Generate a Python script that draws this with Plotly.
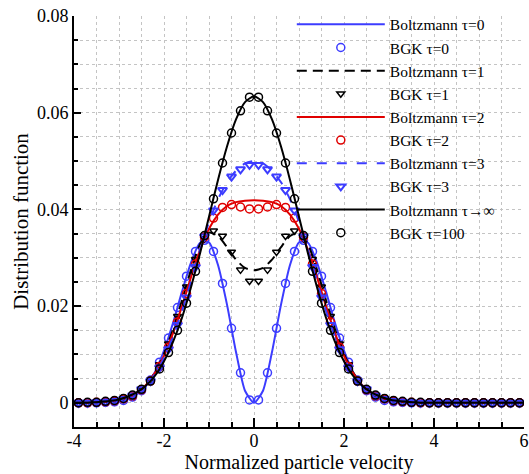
import plotly.graph_objects as go

# ---------------- data ----------------
# BGK solution points (discrete velocity grid)
v_bgk = [-3.9, -3.7, -3.5, -3.3, -3.1, -2.9, -2.7, -2.5, -2.3, -2.1,
         -1.9, -1.7, -1.5, -1.3, -1.1, -0.9, -0.7, -0.5, -0.3, -0.1,
         0.1, 0.3, 0.5, 0.7, 0.9, 1.1, 1.3, 1.5, 1.7, 1.9,
         2.1, 2.3, 2.5, 2.7, 2.9, 3.1, 3.3, 3.5, 3.7, 3.9,
         4.1, 4.3, 4.5, 4.7, 4.9, 5.1, 5.3, 5.5, 5.7, 5.9]

bgk_t0 = [0.0, 0.0, 0.0, 0.0001, 0.0002, 0.0005, 0.0012, 0.0025, 0.0047, 0.0084,
          0.0134, 0.0197, 0.0262, 0.0313, 0.0336, 0.0313, 0.0247, 0.0154, 0.0062, 0.0006,
          0.0006, 0.0062, 0.0154, 0.0247, 0.0313, 0.0336, 0.0313, 0.0262, 0.0197, 0.0134,
          0.0084, 0.0047, 0.0025, 0.0012, 0.0005, 0.0002, 0.0001, 0.0, 0.0, 0.0,
          0.0, 0.0, 0.0, 0.0, 0.0, 0.0, 0.0, 0.0, 0.0, 0.0]

bgk_t1 = [0.0, 0.0, 0.0001, 0.0001, 0.0003, 0.0007, 0.0013, 0.0026, 0.0047, 0.0079,
          0.0122, 0.0179, 0.0240, 0.0297, 0.0340, 0.0356, 0.0345, 0.0312, 0.0275, 0.0252,
          0.0252, 0.0275, 0.0312, 0.0345, 0.0356, 0.0340, 0.0297, 0.0240, 0.0179, 0.0122,
          0.0079, 0.0047, 0.0026, 0.0013, 0.0007, 0.0003, 0.0001, 0.0001, 0.0, 0.0,
          0.0, 0.0, 0.0, 0.0, 0.0, 0.0, 0.0, 0.0, 0.0, 0.0]

bgk_t2 = [0.0, 0.0, 0.0001, 0.0002, 0.0004, 0.0008, 0.0014, 0.0027, 0.0045, 0.0075,
          0.0115, 0.0167, 0.0226, 0.0287, 0.0343, 0.0382, 0.0404, 0.0410, 0.0405, 0.0401,
          0.0401, 0.0405, 0.0410, 0.0404, 0.0382, 0.0343, 0.0287, 0.0226, 0.0167, 0.0115,
          0.0075, 0.0045, 0.0027, 0.0014, 0.0008, 0.0004, 0.0002, 0.0001, 0.0, 0.0,
          0.0, 0.0, 0.0, 0.0, 0.0, 0.0, 0.0, 0.0, 0.0, 0.0]

bgk_t3 = [0.0, 0.0, 0.0001, 0.0002, 0.0004, 0.0008, 0.0015, 0.0028, 0.0045, 0.0073,
          0.0111, 0.0161, 0.0218, 0.0281, 0.0344, 0.0398, 0.0440, 0.0468, 0.0483, 0.0492,
          0.0492, 0.0483, 0.0468, 0.0440, 0.0398, 0.0344, 0.0281, 0.0218, 0.0161, 0.0111,
          0.0073, 0.0045, 0.0028, 0.0015, 0.0008, 0.0004, 0.0002, 0.0001, 0.0, 0.0,
          0.0, 0.0, 0.0, 0.0, 0.0, 0.0, 0.0, 0.0, 0.0, 0.0]

bgk_t100 = [0.0, 0.0001, 0.0001, 0.0003, 0.0005, 0.0009, 0.0016, 0.0028, 0.0045, 0.0070,
            0.0104, 0.0150, 0.0206, 0.0272, 0.0346, 0.0422, 0.0496, 0.0558, 0.0604, 0.0632,
            0.0632, 0.0604, 0.0558, 0.0496, 0.0422, 0.0346, 0.0272, 0.0206, 0.0150, 0.0104,
            0.0070, 0.0045, 0.0028, 0.0016, 0.0009, 0.0005, 0.0003, 0.0001, 0.0001, 0.0,
            0.0, 0.0, 0.0, 0.0, 0.0, 0.0, 0.0, 0.0, 0.0, 0.0]

# Boltzmann solution curves
v_boltz = [-4.0, -3.8, -3.6, -3.4, -3.2, -3.0, -2.8, -2.6, -2.4, -2.2,
           -2.0, -1.8, -1.6, -1.4, -1.2, -1.0, -0.8, -0.6, -0.4, -0.2,
           0.0,
           0.2, 0.4, 0.6, 0.8, 1.0, 1.2, 1.4, 1.6, 1.8, 2.0,
           2.2, 2.4, 2.6, 2.8, 3.0, 3.2, 3.4, 3.6, 3.8, 4.0,
           4.2, 4.4, 4.6, 4.8, 5.0, 5.2, 5.4, 5.6, 5.8, 6.0]

boltz_t0 = [0.0, 0.0, 0.0, 0.0, 0.0001, 0.0003, 0.0008, 0.0018, 0.0035, 0.0064,
            0.0108, 0.0165, 0.0230, 0.0290, 0.0331, 0.0332, 0.0285, 0.0203, 0.0105, 0.0025,
            0.0,
            0.0025, 0.0105, 0.0203, 0.0285, 0.0332, 0.0331, 0.0290, 0.0230, 0.0165, 0.0108,
            0.0064, 0.0035, 0.0018, 0.0008, 0.0003, 0.0001, 0.0, 0.0, 0.0, 0.0,
            0.0, 0.0, 0.0, 0.0, 0.0, 0.0, 0.0, 0.0, 0.0, 0.0]

boltz_t1 = [0.0, 0.0, 0.0, 0.0001, 0.0002, 0.0005, 0.0010, 0.0020, 0.0036, 0.0063,
            0.0101, 0.0152, 0.0212, 0.0275, 0.0328, 0.0352, 0.0345, 0.0322, 0.0296, 0.0279,
            0.0274,
            0.0279, 0.0296, 0.0322, 0.0345, 0.0352, 0.0328, 0.0275, 0.0212, 0.0152, 0.0101,
            0.0063, 0.0036, 0.0020, 0.0010, 0.0005, 0.0002, 0.0001, 0.0, 0.0, 0.0,
            0.0, 0.0, 0.0, 0.0, 0.0, 0.0, 0.0, 0.0, 0.0, 0.0]

boltz_t2 = [0.0, 0.0, 0.0, 0.0001, 0.0003, 0.0006, 0.0011, 0.0021, 0.0037, 0.0062,
            0.0097, 0.0144, 0.0200, 0.0260, 0.0316, 0.0360, 0.0389, 0.0407, 0.0415, 0.0418,
            0.0419,
            0.0418, 0.0415, 0.0407, 0.0389, 0.0360, 0.0316, 0.0260, 0.0200, 0.0144, 0.0097,
            0.0062, 0.0037, 0.0021, 0.0011, 0.0006, 0.0003, 0.0001, 0.0, 0.0, 0.0,
            0.0, 0.0, 0.0, 0.0, 0.0, 0.0, 0.0, 0.0, 0.0, 0.0]

boltz_t3 = [0.0, 0.0, 0.0, 0.0001, 0.0003, 0.0006, 0.0011, 0.0021, 0.0036, 0.0059,
            0.0093, 0.0137, 0.0190, 0.0251, 0.0315, 0.0374, 0.0421, 0.0456, 0.0480, 0.0495,
            0.0500,
            0.0495, 0.0480, 0.0456, 0.0421, 0.0374, 0.0315, 0.0251, 0.0190, 0.0137, 0.0093,
            0.0059, 0.0036, 0.0021, 0.0011, 0.0006, 0.0003, 0.0001, 0.0, 0.0, 0.0,
            0.0, 0.0, 0.0, 0.0, 0.0, 0.0, 0.0, 0.0, 0.0, 0.0]

boltz_inf = [0.0, 0.0, 0.0001, 0.0002, 0.0004, 0.0007, 0.0013, 0.0022, 0.0036, 0.0056,
             0.0086, 0.0126, 0.0176, 0.0239, 0.0309, 0.0385, 0.0461, 0.0530, 0.0586, 0.0622,
             0.0634,
             0.0622, 0.0586, 0.0530, 0.0461, 0.0385, 0.0309, 0.0239, 0.0176, 0.0126, 0.0086,
             0.0056, 0.0036, 0.0022, 0.0013, 0.0007, 0.0004, 0.0002, 0.0001, 0.0, 0.0,
             0.0, 0.0, 0.0, 0.0, 0.0, 0.0, 0.0, 0.0, 0.0, 0.0]

x_tickvals = [-4, -2, 0, 2, 4, 6]
x_ticktext = ["-4", "-2", "0", "2", "4", "6"]
y_tickvals = [0, 0.02, 0.04, 0.06, 0.08]
y_ticktext = ["0", "0.02", "0.04", "0.06", "0.08"]

# ---------------- styles ----------------
BLUE = "#3c3cff"
RED = "#e00000"
BLACK = "#000000"
FONT = "Liberation Serif"

fig = go.Figure()

def add_line(x, y, name, color, dash="solid", width=2):
    fig.add_trace(go.Scatter(x=x, y=y, mode="lines", name=name,
                             line=dict(color=color, dash=dash, width=width,
                                       shape="spline", smoothing=0.6)))

def add_pts(x, y, name, color, symbol, size=8, lw=1.5):
    fig.add_trace(go.Scatter(x=x, y=y, mode="markers", name=name,
                             marker=dict(symbol=symbol, size=size, color=color,
                                         line=dict(color=color, width=lw))))

add_line(v_boltz, boltz_t0, "Boltzmann τ=0", BLUE)
add_pts(v_bgk, bgk_t0, "BGK τ=0", BLUE, "circle-open")
add_line(v_boltz, boltz_t1, "Boltzmann τ=1", BLACK, dash="10px,6px")
add_pts(v_bgk, bgk_t1, "BGK τ=1", BLACK, "triangle-down-open", size=7)
add_line(v_boltz, boltz_t2, "Boltzmann τ=2", RED)
add_pts(v_bgk, bgk_t2, "BGK τ=2", RED, "circle-open")
add_line(v_boltz, boltz_t3, "Boltzmann τ=3", BLUE, dash="10px,10px")
add_pts(v_bgk, bgk_t3, "BGK τ=3", BLUE, "triangle-down-open", size=8, lw=2)
add_line(v_boltz, boltz_inf, "Boltzmann τ→∞", BLACK)
add_pts(v_bgk, bgk_t100, "BGK τ=100", BLACK, "circle-open")

GRIDC = "#c4c4c4"

fig.update_layout(
    width=529, height=474,
    margin=dict(l=74, r=5, t=16, b=47),
    paper_bgcolor="white", plot_bgcolor="white",
    font=dict(family=FONT, color="black", size=18),
    showlegend=True,
    legend=dict(x=0.484, y=1.02, xanchor="left", yanchor="top",
                bgcolor="rgba(0,0,0,0)", borderwidth=0,
                font=dict(family=FONT, size=15.5, color="black"),
                itemwidth=88, tracegroupgap=0, maxheight=460),
    xaxis=dict(range=[-4, 6], tickvals=x_tickvals, ticktext=x_ticktext,
               automargin=False, ticklabelstandoff=-4,
               ticks="inside", ticklen=9, tickwidth=2, tickcolor="black",
               showline=True, linecolor="black", linewidth=2, mirror=False,
               zeroline=False, showgrid=True, gridcolor=GRIDC, griddash="dot", gridwidth=1,
               minor=dict(dtick=0.5, tick0=0, ticks="inside", ticklen=5,
                          tickwidth=1.5, tickcolor="black", showgrid=True,
                          gridcolor=GRIDC, griddash="dot", gridwidth=1),
               title=dict(text="Normalized particle velocity",
                          font=dict(family=FONT, size=20), standoff=7),
               tickfont=dict(family=FONT, size=18)),
    yaxis=dict(range=[-0.005, 0.08], tickvals=y_tickvals, ticktext=y_ticktext,
               automargin=False,
               ticks="inside", ticklen=7, tickwidth=2, tickcolor="black",
               showline=True, linecolor="black", linewidth=2, mirror=False,
               zeroline=False, showgrid=True, gridcolor=GRIDC, griddash="dot", gridwidth=1,
               minor=dict(dtick=0.005, tick0=0, ticks="inside", ticklen=4,
                          tickwidth=1.5, tickcolor="black", showgrid=True,
                          gridcolor=GRIDC, griddash="dot", gridwidth=1),
               title=dict(text="Distribution function",
                          font=dict(family=FONT, size=21), standoff=3),
               tickfont=dict(family=FONT, size=18)),
)

fig.write_html("out.html")
